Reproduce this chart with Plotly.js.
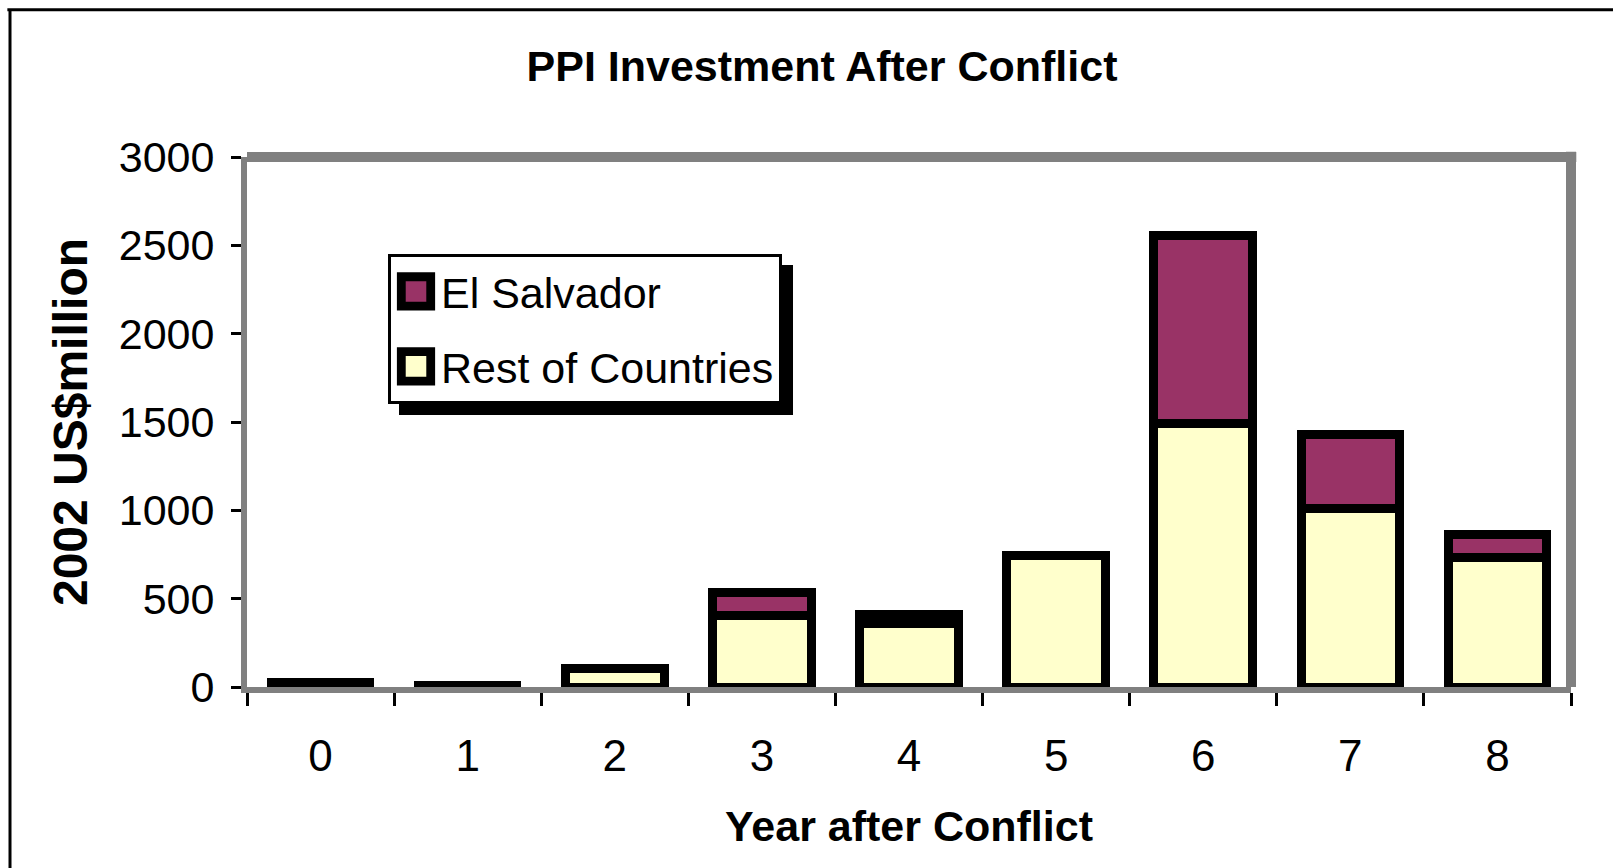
<!DOCTYPE html>
<html>
<head>
<meta charset="utf-8">
<script src="https://cdn.plot.ly/plotly-3.0.1.min.js"></script>
<style>
  html, body { margin: 0; padding: 0; background: #ffffff; }
  #chart { width: 1613px; height: 868px; }
</style>
</head>
<body>
<div id="chart"></div>
<script>
// ---- data ----
const years = ["0", "1", "2", "3", "4", "5", "6", "7", "8"];
const restOfCountries = [18, 5, 105, 404, 361, 745, 1492, 1013, 735];
const elSalvador = [6, 1, 0, 129, 47, 0, 1065, 416, 127];
const seriesNames = ["Rest of Countries", "El Salvador"];
const yTicks = [0, 500, 1000, 1500, 2000, 2500, 3000];

const FONT = '"Liberation Sans", Arial, sans-serif';
const GRAY = '#808080';

const traces = [
  {
    type: 'bar', x: years, y: restOfCountries, name: seriesNames[0],
    legendgroup: 'r', legendrank: 2,
    marker: { color: '#FFFFCC', line: { color: '#000000', width: 9 } },
    hoverinfo: 'x+y+name'
  },
  {
    type: 'bar', x: years, y: elSalvador, name: seriesNames[1],
    legendgroup: 'e', legendrank: 1,
    marker: { color: '#993366', line: { color: '#000000', width: 9 } },
    hoverinfo: 'x+y+name'
  }
];

const layout = {
  width: 1613, height: 868,
  margin: { l: 247, r: 42, t: 157, b: 180.5, pad: 0 },
  paper_bgcolor: '#ffffff', plot_bgcolor: '#ffffff',
  barmode: 'stack', bargap: 0.33,
  font: { family: FONT, color: '#000000' },
  title: {
    text: 'PPI Investment After Conflict',
    font: { family: FONT, size: 43, weight: 'bold', color: '#000000' },
    x: 0.5096, xref: 'container', xanchor: 'center',
    y: 0.924, yref: 'container', yanchor: 'middle'
  },
  xaxis: {
    type: 'category',
    range: [-0.5, 8.5],
    showgrid: false, zeroline: false,
    showline: true, linecolor: GRAY, linewidth: 6,
    ticks: 'outside', tickson: 'boundaries', ticklen: 13, tickwidth: 3, tickcolor: '#000000',
    tickfont: { family: FONT, size: 44, color: '#000000' },
    ticklabelstandoff: 25,
    layer: 'below traces',
    title: { text: 'Year after Conflict', font: { family: FONT, size: 43, weight: 'bold', color: '#000000' }, standoff: 34 }
  },
  yaxis: {
    range: [0, 3000],
    tickvals: yTicks,
    showgrid: false, zeroline: false,
    showline: true, linecolor: GRAY, linewidth: 6,
    ticks: 'outside', ticklen: 10, tickwidth: 3, tickcolor: '#000000',
    tickfont: { family: FONT, size: 43, color: '#000000' },
    ticklabelstandoff: 8,
    layer: 'below traces',
    title: { text: '2002 US$million', font: { family: FONT, size: 48, weight: 'bold', color: '#000000' }, standoff: 18 }
  },
  showlegend: true,
  legend: {
    x: 0.1065, y: 0.817, xanchor: 'left', yanchor: 'top',
    bgcolor: '#ffffff', bordercolor: '#000000', borderwidth: 3,
    font: { family: FONT, size: 43, color: '#000000' },
    traceorder: 'grouped', tracegroupgap: 16, itemwidth: 40
  },
  shapes: [
    // thick gray frame: top and right
    { type: 'line', xref: 'paper', yref: 'paper', x0: 0, x1: 1.004, y0: 1, y1: 1, line: { color: GRAY, width: 10 }, layer: 'below' },
    { type: 'line', xref: 'paper', yref: 'paper', x0: 1, x1: 1, y0: 0, y1: 1.01, line: { color: GRAY, width: 10 }, layer: 'below' },
    // outer black figure border (left and top)
    { type: 'line', xref: 'paper', yref: 'paper', x0: -0.179, x1: -0.179, y0: -0.5, y1: 1.278, line: { color: '#000000', width: 3 } },
    { type: 'line', xref: 'paper', yref: 'paper', x0: -0.181, x1: 1.1, y0: 1.278, y1: 1.278, line: { color: '#000000', width: 3 } }
  ]
};

const gd = document.getElementById('chart');

function enlargeLegendSymbols() {
  gd.querySelectorAll('.legend .legendpoints path').forEach(function (p) {
    const t = p.getAttribute('transform') || '';
    if (t.indexOf('scale') === -1) {
      p.setAttribute('transform', t + ' scale(2.45)');
    }
    p.style.strokeWidth = '3.6px';
    p.style.stroke = '#000000';
  });
}

Plotly.newPlot(gd, traces, layout, { displayModeBar: false, staticPlot: true }).then(function () {
  const fl = gd._fullLayout;
  const lg = fl.legend;
  const w = lg._width, h = lg._height;
  const plotW = fl._size.w, plotH = fl._size.h;
  const off = 11;
  const x0 = lg.x + off / plotW;
  const x1 = lg.x + (w + off) / plotW;
  const y1 = lg.y - off / plotH;
  const y0 = lg.y - (h + off) / plotH;
  const shapes = layout.shapes.concat([
    { type: 'rect', xref: 'paper', yref: 'paper', x0: x0, x1: x1, y0: y0, y1: y1,
      fillcolor: '#000000', line: { width: 0 }, layer: 'above' }
  ]);
  return Plotly.relayout(gd, { shapes: shapes });
}).then(function () {
  enlargeLegendSymbols();
});
</script>
</body>
</html>
